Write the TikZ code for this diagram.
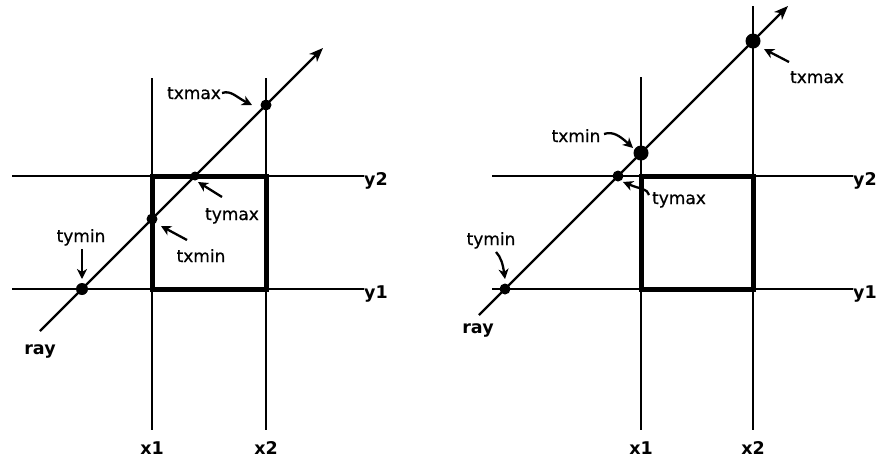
\documentclass[tikz,border=0pt]{standalone}
\usepackage{fontspec}
\setmainfont{DejaVu Sans}
\newfontfamily\lblfont[FakeBold=0.6]{DejaVu Sans}
\usetikzlibrary{arrows.meta}
\begin{document}
\begin{tikzpicture}[x=1pt,y=-1pt,
  gridline/.style={line width=2.4pt},
  boxline/.style={line width=5pt},
  rayline/.style={line width=2.2pt,-{Stealth[length=14pt,width=11pt,inset=4pt]}},
  lbl/.style={font=\lblfont\fontsize{17}{17}\selectfont, inner sep=0pt, anchor=base},
  axl/.style={font=\bfseries\fontsize{17.5}{17.5}\selectfont, inner sep=0pt, anchor=base},
  yl/.style={axl, anchor=base west},
  dot/.style={circle,fill=black,inner sep=0pt,minimum size=#1},
  ptr/.style={line width=2.3pt,-{Stealth[length=10pt,width=10pt,inset=3pt]}},
]
\useasboundingbox (0,0) rectangle (880,459);
\fill[white] (0,0) rectangle (880,459);

% ===== left diagram =====
\coordinate (Lx1t) at (152,78);  \coordinate (Lx1b) at (152,430);
\coordinate (Lx2t) at (266,78);  \coordinate (Lx2b) at (266,430);
\coordinate (Ly2l) at (12,176);  \coordinate (Ly2r) at (364,176);
\coordinate (Ly1l) at (12,289);  \coordinate (Ly1r) at (364,289);
\draw[gridline] (Lx1t) -- (Lx1b);
\draw[gridline] (Lx2t) -- (Lx2b);
\draw[gridline] (Ly2l) -- (Ly2r);
\draw[gridline] (Ly1l) -- (Ly1r);
\draw[boxline] (152,176) rectangle (266,289);
\coordinate (Lr0) at (40,331);
\coordinate (Lr1) at (323,48);
\draw[rayline] (Lr0) -- (Lr1);
\node[dot=12pt] (Ltymin) at (82,289) {};
\node[dot=11pt] (Ltxmin) at (152,219) {};
\node[dot=9pt]  (Ltymax) at (195,176) {};
\node[dot=11pt] (Ltxmax) at (266,105) {};

\node[lbl] (Lltxmax) at (194,99) {txmax};
\node[lbl] (Lltymax) at (232,220) {tymax};
\node[lbl] (Lltxmin) at (201,262) {txmin};
\node[lbl] (Lltymin) at (81,242) {tymin};
\node[axl] (Lray) at (40,354) {ray};
\node[axl] (Lx1) at (152,454) {x1};
\node[axl] (Lx2) at (266,454) {x2};
\node[yl] (Ly2) at (364,185) {y2};
\node[yl] (Ly1) at (364,298) {y1};

\coordinate (La1s) at (222,93);  \coordinate (La1e) at (252,105);
\coordinate (La2s) at (222,197); \coordinate (La2e) at (198,182);
\coordinate (La3s) at (187,240); \coordinate (La3e) at (161,226);
\coordinate (La4s) at (82,249);  \coordinate (La4e) at (82,279);
\draw[ptr] (La1s) .. controls (231,90) and (236,97) .. (La1e);
\draw[ptr] (La2s) -- (La2e);
\draw[ptr] (La3s) -- (La3e);
\draw[ptr] (La4s) -- (La4e);

% ===== right diagram =====
\coordinate (Rx1t) at (641,77);  \coordinate (Rx1b) at (641,430);
\coordinate (Rx2t) at (753,6);   \coordinate (Rx2b) at (753,430);
\coordinate (Ry2l) at (492,176); \coordinate (Ry2r) at (853,176);
\coordinate (Ry1l) at (492,289); \coordinate (Ry1r) at (853,289);
\draw[gridline] (Rx1t) -- (Rx1b);
\draw[gridline] (Rx2t) -- (Rx2b);
\draw[gridline] (Ry2l) -- (Ry2r);
\draw[gridline] (Ry1l) -- (Ry1r);
\draw[boxline] (641,176) rectangle (753,289);
\coordinate (Rr0) at (479,315);
\coordinate (Rr1) at (788,6);
\draw[rayline] (Rr0) -- (Rr1);
\node[dot=11pt] (Rtymin) at (505,289) {};
\node[dot=11pt] (Rtymax) at (618,176) {};
\node[dot=15pt] (Rtxmin) at (641,153) {};
\node[dot=15pt] (Rtxmax) at (753,41) {};

\node[lbl] (Rltxmax) at (817,83) {txmax};
\node[lbl] (Rltxmin) at (576,142) {txmin};
\node[lbl] (Rltymax) at (679,204) {tymax};
\node[lbl] (Rltymin) at (491,245) {tymin};
\node[axl] (Rray) at (478,333) {ray};
\node[axl] (Rx1) at (641,454) {x1};
\node[axl] (Rx2) at (753,454) {x2};
\node[yl] (Ry2) at (853,185) {y2};
\node[yl] (Ry1) at (853,298) {y1};

\coordinate (Ra1s) at (789,62);  \coordinate (Ra1e) at (764,49);
\coordinate (Ra2s) at (604,134); \coordinate (Ra2e) at (633,148);
\coordinate (Ra3s) at (649,195); \coordinate (Ra3e) at (623,182);
\coordinate (Ra4s) at (496,252); \coordinate (Ra4e) at (505,279);
\draw[ptr] (Ra1s) -- (Ra1e);
\draw[ptr] (Ra2s) .. controls (613,131) and (620,136) .. (Ra2e);
\draw[ptr] (Ra3s) .. controls (648,189) and (640,189) .. (Ra3e);
\draw[ptr] (Ra4s) .. controls (501,257) and (503,265) .. (Ra4e);
\end{tikzpicture}
\end{document}
